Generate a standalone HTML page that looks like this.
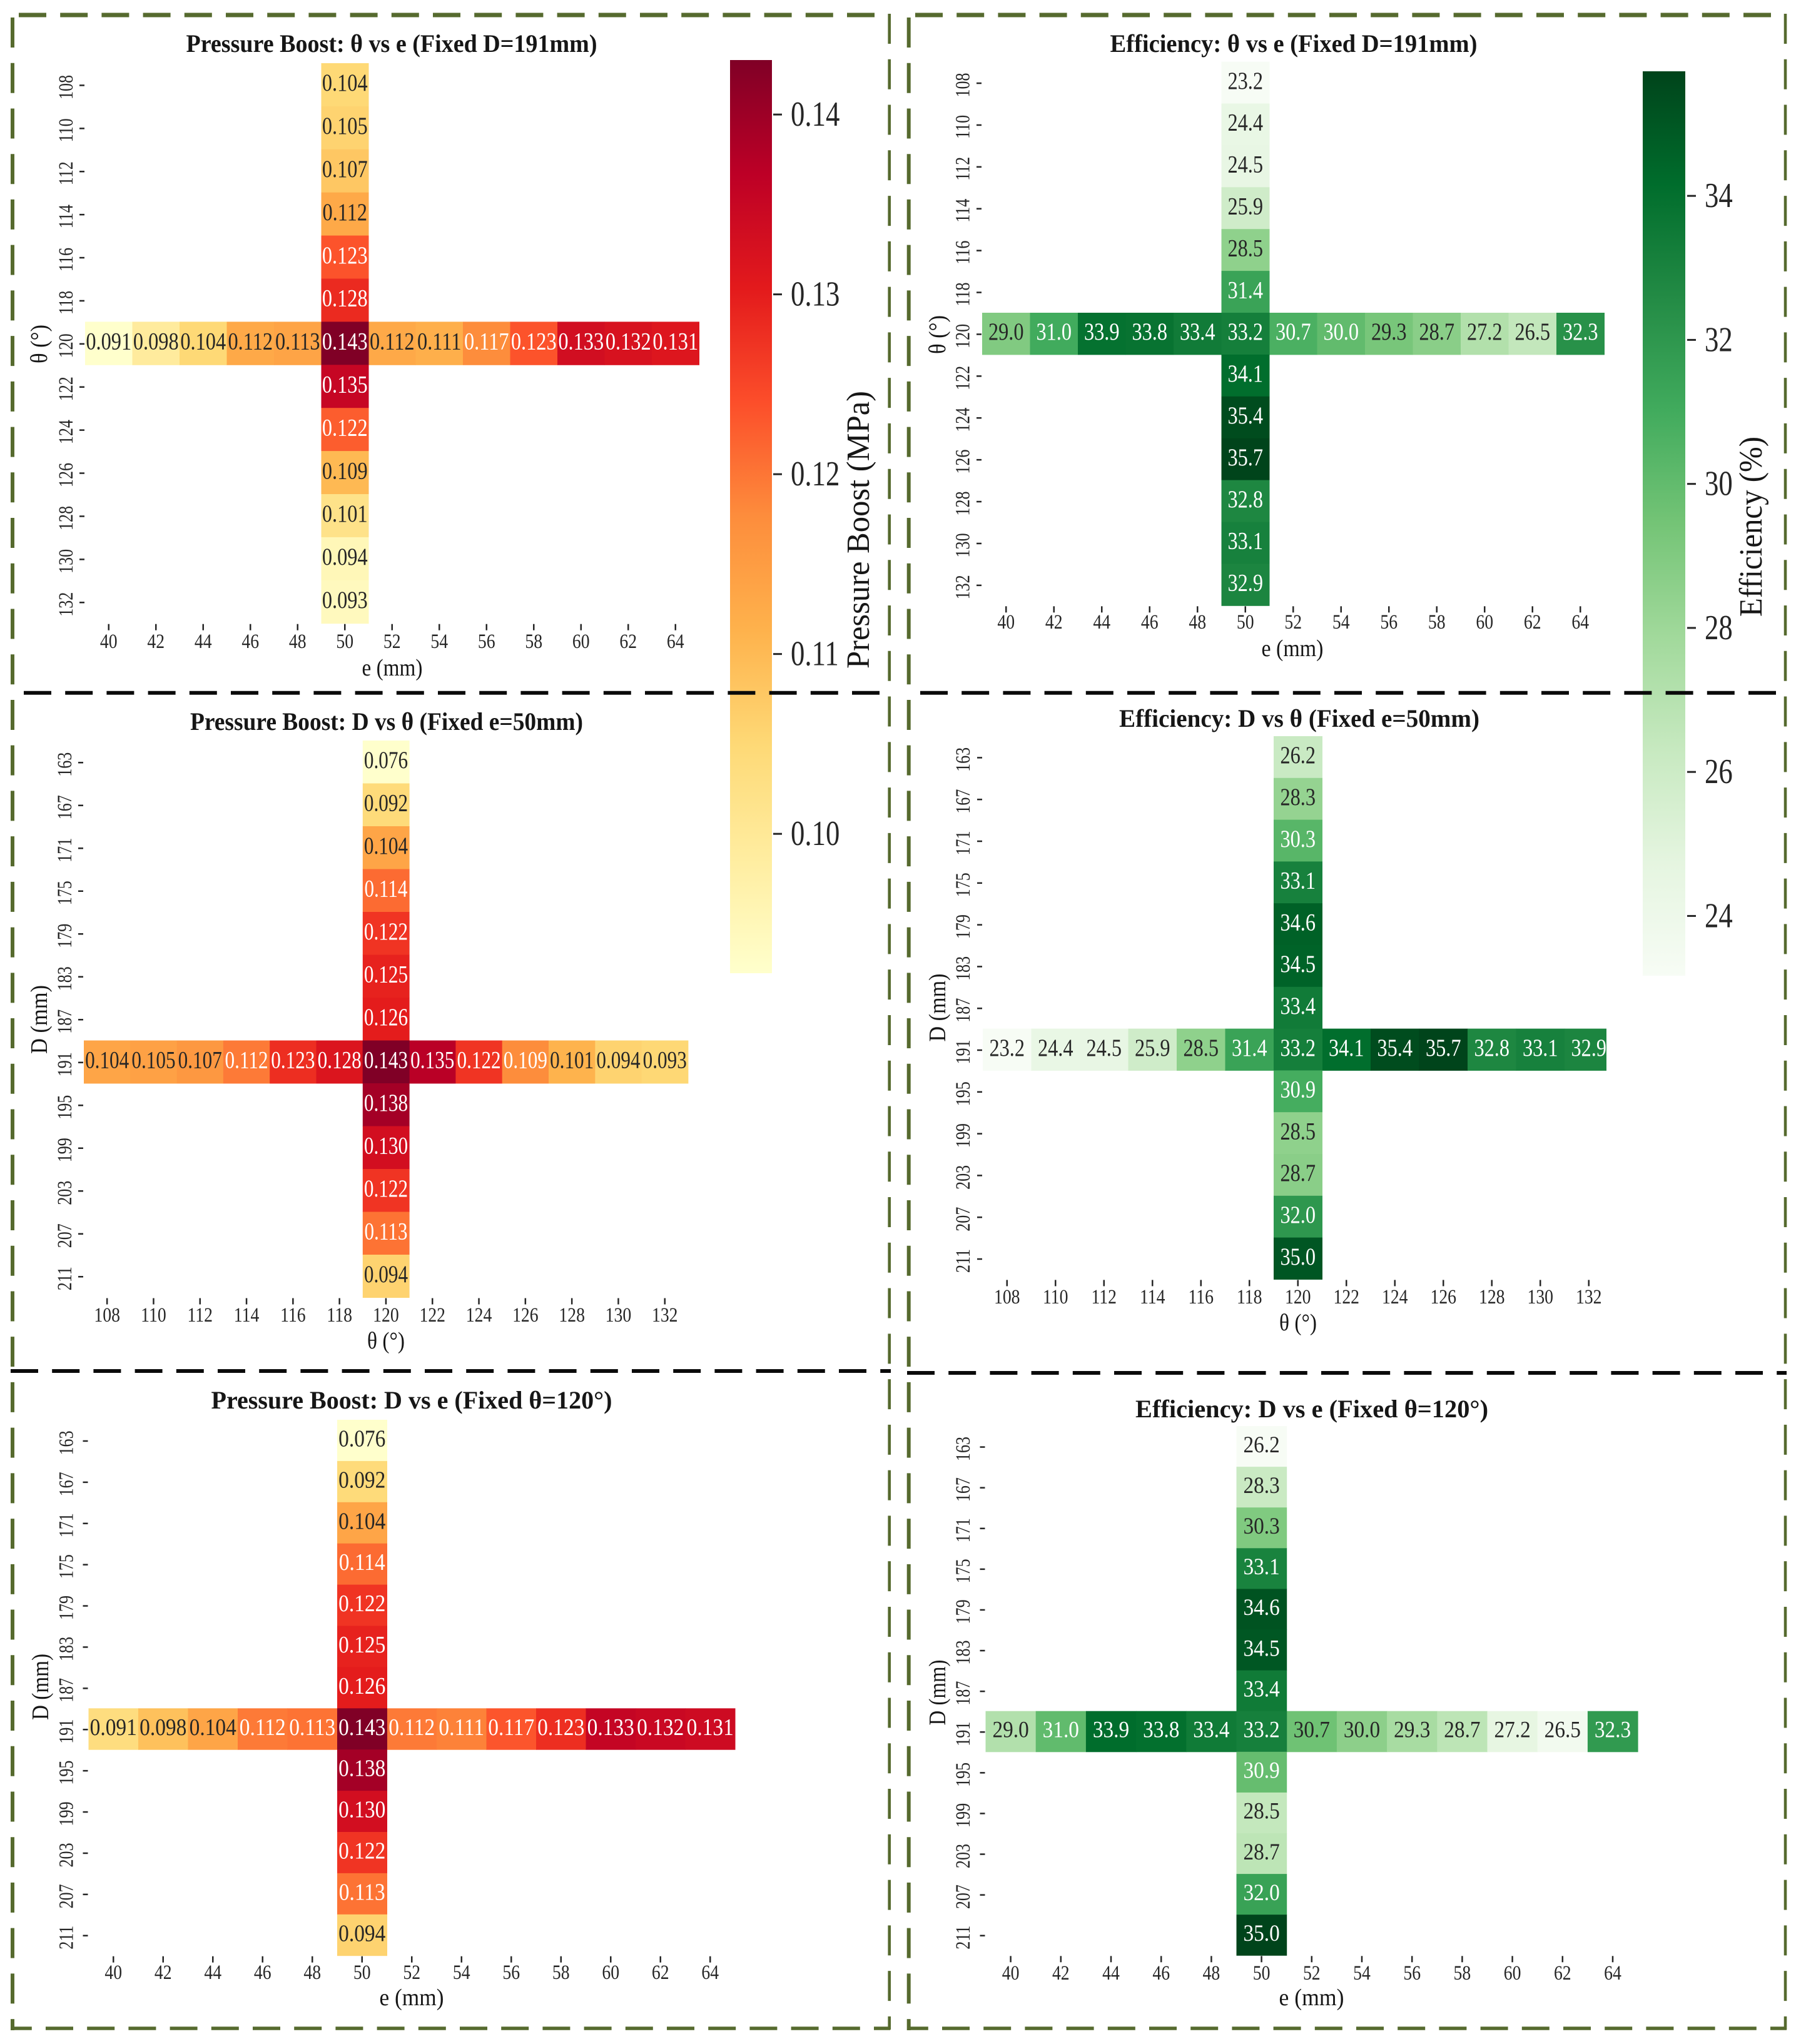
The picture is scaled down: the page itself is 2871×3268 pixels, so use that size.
<!DOCTYPE html>
<html lang="en">
<head>
<meta charset="utf-8">
<title>Pressure Boost and Efficiency Heatmaps</title>
<style>
html,body{margin:0;padding:0;background:#fff;}
svg{display:block;}
text{font-family:"Liberation Serif","DejaVu Serif",serif;}
</style>
</head>
<body>
<svg id="chart" xmlns="http://www.w3.org/2000/svg" width="2871" height="3268" viewBox="0 0 2871 3268">
<rect x="0" y="0" width="2871" height="3268" fill="#ffffff"/>
<defs>
<linearGradient id="grad-pressure" x1="0" y1="1" x2="0" y2="0"></linearGradient>
<linearGradient id="grad-eff" x1="0" y1="1" x2="0" y2="0"></linearGradient>
</defs>
<g id="plots"></g>
<g id="frames" fill="none">
<g stroke="#566a2e">
<line x1="30" y1="24" x2="1398" y2="24" stroke-width="7" stroke-dasharray="44 22.2"/>
<line x1="1463" y1="24" x2="2831" y2="24" stroke-width="7" stroke-dasharray="44 22.2"/>
<line x1="17" y1="3243" x2="1423" y2="3243" stroke-width="5.5" stroke-dasharray="44 22.2" stroke-dashoffset="10.2"/>
<line x1="1450" y1="3243" x2="2856" y2="3243" stroke-width="5.5" stroke-dasharray="44 22.2" stroke-dashoffset="10.2"/>
<line x1="20" y1="28" x2="20" y2="3246" stroke-width="6" stroke-dasharray="48 24.73"/>
<line x1="1421.7" y1="22" x2="1421.7" y2="3245" stroke-width="4.6" stroke-dasharray="48 24.77"/>
<line x1="1452.7" y1="28" x2="1452.7" y2="3246" stroke-width="6" stroke-dasharray="48 24.73"/>
<line x1="2854" y1="22" x2="2854" y2="3245" stroke-width="4.6" stroke-dasharray="48 24.77"/>
</g>
<g stroke="#0a0a0a" stroke-width="6">
<line x1="38" y1="1107.7" x2="1407" y2="1107.7" stroke-dasharray="44 22.2"/>
<line x1="1471" y1="1107.7" x2="2842" y2="1107.7" stroke-dasharray="44 22.2"/>
<line x1="17" y1="2192" x2="1424" y2="2192" stroke-dasharray="44 22.2"/>
<line x1="1450" y1="2195" x2="2856" y2="2195" stroke-dasharray="44 22.2"/>
</g>
</g>
</svg>
<script>
// ---- chart data ----
const eTicks = [40,42,44,46,48,50,52,54,56,58,60,62,64];
const thetaTicks = [108,110,112,114,116,118,120,122,124,126,128,130,132];
const dTicks = [163,167,171,175,179,183,187,191,195,199,203,207,211];
const pressureVsE = [0.091,0.098,0.104,0.112,0.113,0.143,0.112,0.111,0.117,0.123,0.133,0.132,0.131];
const pressureVsTheta = [0.104,0.105,0.107,0.112,0.123,0.128,0.143,0.135,0.122,0.1094,0.101,0.094,0.093];
const pressureVsD = [0.076,0.092,0.104,0.114,0.122,0.125,0.126,0.143,0.138,0.130,0.122,0.113,0.094];
const efficiencyVsE = [29.0,31.0,33.9,33.8,33.4,33.2,30.7,30.0,29.3,28.7,27.2,26.5,32.3];
const efficiencyVsTheta = [23.2,24.4,24.5,25.9,28.5,31.4,33.2,34.1,35.4,35.7,32.8,33.1,32.9];
const efficiencyVsD = [26.2,28.3,30.3,33.1,34.6,34.5,33.4,33.2,30.9,28.5,28.7,32.0,35.0];
const pressureBarTicks = [0.10,0.11,0.12,0.13,0.14];
const efficiencyBarTicks = [24,26,28,30,32,34];
const pressureBarRange = [0.09225,0.14303];
const efficiencyBarRange = [23.17,35.73];
const ylOrRd = ["#ffffcc","#ffeda0","#fed976","#feb24c","#fd8d3c","#fc4e2a","#e31a1c","#bd0026","#800026"];
const greens = ["#f7fcf5","#e5f5e0","#c7e9c0","#a1d99b","#74c476","#41ab5d","#238b45","#006d2c","#00441b"];

// ---- layout (not data) ----
const layouts = [
 {id:'pressure-theta-e',title:'Pressure Boost: θ vs e (Fixed D=191mm)',xTicks:eTicks,yTicks:thetaTicks,across:pressureVsE,down:pressureVsTheta,fixX:50,fixY:120,fmt:3,cmap:ylOrRd,
  x0:136,y0:101,cw:75.5,rh:68.9,tx:626,ty:71,tw:657,xl:'e (mm)',xlx:627,xly:1069,xlw:97,yl:'θ (°)',ylx:63,yly:550,ylw:62,ytx:105,xty:1025,as:39,asx:.83,clip:0},
 {id:'efficiency-theta-e',title:'Efficiency: θ vs e (Fixed D=191mm)',xTicks:eTicks,yTicks:thetaTicks,across:efficiencyVsE,down:efficiencyVsTheta,fixX:50,fixY:120,fmt:1,cmap:greens,
  x0:1570,y0:98.6,cw:76.5,rh:66.9,tx:2068,ty:71,tw:587,xl:'e (mm)',xlx:2066,xly:1038,xlw:99,yl:'θ (°)',ylx:1499,yly:535,ylw:62,ytx:1538.5,xty:994,as:39,asx:.83,clip:0},
 {id:'pressure-d-theta',title:'Pressure Boost: D vs θ (Fixed e=50mm)',xTicks:thetaTicks,yTicks:dTicks,across:pressureVsTheta,down:pressureVsD,fixX:120,fixY:191,fmt:3,cmap:ylOrRd,
  x0:134,y0:1184,cw:74.3,rh:68.5,tx:618,ty:1155,tw:628,xl:'θ (°)',xlx:617,xly:2145,xlw:60,yl:'D (mm)',ylx:63,yly:1630,ylw:110,ytx:103,xty:2102,as:39,asx:.8,clip:0},
 {id:'efficiency-d-theta',title:'Efficiency: D vs θ (Fixed e=50mm)',xTicks:thetaTicks,yTicks:dTicks,across:efficiencyVsTheta,down:efficiencyVsD,fixX:120,fixY:191,fmt:1,cmap:greens,
  x0:1571,y0:1177,cw:77.5,rh:66.8,tx:2077,ty:1150,tw:576,xl:'θ (°)',xlx:2075,xly:2116,xlw:60,yl:'D (mm)',ylx:1499,yly:1611,ylw:109,ytx:1539,xty:2073,as:39,asx:.83,clip:2568},
 {id:'pressure-d-e',title:'Pressure Boost: D vs e (Fixed θ=120°)',xTicks:eTicks,yTicks:dTicks,across:pressureVsE,down:pressureVsD,fixX:50,fixY:191,fmt:3,cmap:ylOrRd,
  x0:141.5,y0:2270,cw:79.5,rh:65.9,tx:658,ty:2240,tw:641,xl:'e (mm)',xlx:658,xly:3195,xlw:103,yl:'D (mm)',ylx:65,yly:2697,ylw:106,ytx:105.5,xty:3153,as:38,asx:.88,clip:0},
 {id:'efficiency-d-e',title:'Efficiency: D vs e (Fixed θ=120°)',xTicks:eTicks,yTicks:dTicks,across:efficiencyVsE,down:efficiencyVsD,fixX:50,fixY:191,fmt:1,cmap:greens,
  x0:1575.5,y0:2280,cw:80.2,rh:65.1,tx:2097,ty:2254,tw:564,xl:'e (mm)',xlx:2096.5,xly:3195,xlw:104,yl:'D (mm)',ylx:1499,yly:2706,ylw:105,ytx:1539,xty:3154,as:37,asx:.9,clip:0}
];
const barLayouts = [
 {id:'pressure',label:'Pressure Boost (MPa)',ticks:pressureBarTicks,range:pressureBarRange,fmt:2,cmap:ylOrRd,grad:'grad-pressure',x:1167,w:67,top:96,bottom:1556,tickX:1236,labelX:1264,titleX:1373,titleY:847,titleW:444},
 {id:'efficiency',label:'Efficiency (%)',ticks:efficiencyBarTicks,range:efficiencyBarRange,fmt:0,cmap:greens,grad:'grad-eff',x:2626,w:68,top:114,bottom:1560,tickX:2697,labelX:2725,titleX:2800,titleY:842,titleW:288}
];

// ---- helpers ----
const NS = 'http://www.w3.org/2000/svg';
const root = document.getElementById('plots');
function mk(tag, parent, attrs) {
  const el = document.createElementNS(NS, tag);
  for (const k in attrs) el.setAttribute(k, attrs[k]);
  parent.appendChild(el);
  return el;
}
function hexRgb(h) {
  return [parseInt(h.slice(1,3),16), parseInt(h.slice(3,5),16), parseInt(h.slice(5,7),16)];
}
function colorAt(cmap, t) {
  const p = Math.max(0, Math.min(1, t)) * (cmap.length - 1);
  const i = Math.min(cmap.length - 2, Math.floor(p));
  const f = p - i;
  const a = hexRgb(cmap[i]), b = hexRgb(cmap[i + 1]);
  return [0,1,2].map(function (k) { return a[k] + (b[k] - a[k]) * f; });
}
function luminance(c) {
  const lin = c.map(function (v) {
    const s = v / 255;
    return s <= 0.03928 ? s / 12.92 : Math.pow((s + 0.055) / 1.055, 2.4);
  });
  return 0.2126 * lin[0] + 0.7152 * lin[1] + 0.0722 * lin[2];
}
function css(c) {
  return 'rgb(' + c.map(Math.round).join(',') + ')';
}
function textAt(parent, str, x, y, size, sx, anchor, rotated, fill) {
  const tr = 'translate(' + x + ' ' + y + ')' + (rotated ? ' rotate(-90)' : '') + ' scale(' + sx + ' 1)';
  const el = mk('text', parent, {transform: tr, 'font-size': size, 'text-anchor': anchor, fill: fill});
  el.textContent = str;
  return el;
}
function fittedText(parent, str, x, y, size, len, rotated, weight) {
  const tr = 'translate(' + x + ' ' + y + ')' + (rotated ? ' rotate(-90)' : '');
  const el = mk('text', parent, {transform: tr, 'font-size': size, 'text-anchor': 'middle', fill: '#161616', 'font-weight': weight, textLength: len, lengthAdjust: 'spacingAndGlyphs'});
  el.textContent = str;
  return el;
}

// ---- draw heatmap panels ----
layouts.forEach(function (p, n) {
  const g = mk('g', root, {});
  
  
  const all = p.across.concat(p.down);
  const vmin = Math.min.apply(null, all);
  const vmax = Math.max.apply(null, all);
  const xScale = function (i) { return p.x0 + i * p.cw; };
  const yScale = function (i) { return p.y0 + i * p.rh; };
  const colorScale = function (v) { return colorAt(p.cmap, (v - vmin) / (vmax - vmin)); };
  const colIdx = p.xTicks.indexOf(p.fixX);
  const rowIdx = p.yTicks.indexOf(p.fixY);

  let cellGroup = g;
  if (p.clip) {
    const defs = mk('clipPath', g, {id: 'clip-' + n});
    mk('rect', defs, {x: p.x0 - 5, y: p.y0 - 5, width: p.clip - p.x0 + 5, height: p.rh * 13 + 10});
    cellGroup = mk('g', g, {'clip-path': 'url(#clip-' + n + ')'});
  }

  function drawCell(col, row, v) {
    const c = colorScale(v);
    const rect = mk('rect', cellGroup, {x: xScale(col), y: yScale(row), width: p.cw + 0.5, height: p.rh + 0.5, fill: css(c)});
    
    
    return c;
  }
  function drawValue(col, row, v) {
    const c = colorScale(v);
    const t = textAt(cellGroup, v.toFixed(p.fmt), xScale(col) + p.cw / 2, yScale(row) + p.rh / 2 + p.as * 0.25, p.as, p.asx, 'middle', false, luminance(c) > 0.408 ? '#262626' : '#ffffff');
    
    
  }
  p.across.forEach(function (v, i) { drawCell(i, rowIdx, v); });
  p.down.forEach(function (v, j) { drawCell(colIdx, j, v); });
  p.across.forEach(function (v, i) { if (i !== colIdx) drawValue(i, rowIdx, v); });
  p.down.forEach(function (v, j) { drawValue(colIdx, j, v); });

  const bottom = yScale(p.yTicks.length);
  p.xTicks.forEach(function (tick, i) {
    const cx = xScale(i) + p.cw / 2;
    const mark = mk('line', g, {x1: cx, x2: cx, y1: bottom + 1, y2: bottom + 11, stroke: '#262626', 'stroke-width': 2.5});
    
    
    const lab = textAt(g, String(tick), cx, p.xty + 11, 33, 0.84, 'middle', false, '#262626');
    
    
  });
  p.yTicks.forEach(function (tick, j) {
    const cy = yScale(j) + p.rh / 2;
    const mark = mk('line', g, {x1: p.x0 - 9, x2: p.x0 - 1, y1: cy + 1, y2: cy + 1, stroke: '#262626', 'stroke-width': 2.5});
    
    
    const lab = textAt(g, String(tick), p.ytx + 11, cy + 4, 33, 0.79, 'middle', true, '#262626');
    
    
  });

  const title = fittedText(g, p.title, p.tx, p.ty + 12, 40, p.tw, false, 'bold');
  
  
  const xLabel = fittedText(g, p.xl, p.xlx, p.xly + 11, 38, p.xlw, false, 'normal');
  
  
  const yLabel = fittedText(g, p.yl, p.ylx + 12, p.yly, 38, p.ylw, true, 'normal');
  
  
});

// ---- draw colorbars ----
barLayouts.forEach(function (b) {
  const g = mk('g', root, {});
  
  
  const grad = document.getElementById(b.grad);
  b.cmap.forEach(function (col, i) {
    mk('stop', grad, {offset: (i / (b.cmap.length - 1) * 100) + '%', 'stop-color': col});
  });
  const bar = mk('rect', g, {x: b.x, y: b.top, width: b.w, height: b.bottom - b.top, fill: 'url(#' + b.grad + ')'});
  
  
  const yScale = function (v) {
    return b.top + (b.range[1] - v) / (b.range[1] - b.range[0]) * (b.bottom - b.top);
  };
  b.ticks.forEach(function (v) {
    const y = yScale(v);
    const mark = mk('line', g, {x1: b.tickX, x2: b.tickX + 14, y1: y, y2: y, stroke: '#262626', 'stroke-width': 3});
    
    
    const lab = textAt(g, v.toFixed(b.fmt), b.labelX, y + 18, 56, 0.8, 'start', false, '#262626');
    
    
  });
  const label = fittedText(g, b.label, b.titleX + 16, b.titleY, 52, b.titleW, true, 'normal');
  
  
});
</script>
</body>
</html>
